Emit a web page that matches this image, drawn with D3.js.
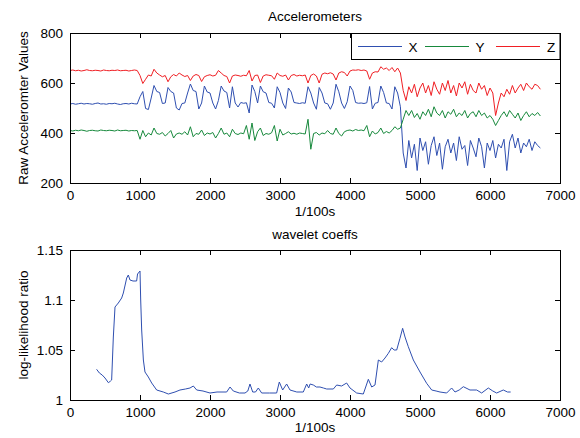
<!DOCTYPE html>
<html>
<head>
<meta charset="utf-8">
<script src="https://cdn.jsdelivr.net/npm/d3@7"></script>
<style>
  body { margin: 0; background: #fff; }
  svg text { font-family: "Liberation Sans", Arial, Helvetica, sans-serif; font-size: 13.5px; fill: #000; }
  .axis path { display: none; }
  .axis line { stroke: #000; }
</style>
</head>
<body>
<div id="chart"></div>
<script>
// accelerometer samples, one every sampleStep (1/100 s)
const sampleStep = 40;

const accX = [
  516, 518, 515, 517, 519, 516, 518, 517, 515, 518, 520, 516, 517, 515, 518, 517, 519, 516, 514, 517, 518, 516, 519, 517, 516,
  545, 566, 498, 494, 540, 590, 566, 562, 518, 520, 582, 566, 560, 500, 492, 518, 520, 560, 596, 570, 566, 496, 520, 588, 564,
  560, 520, 496, 530, 588, 568, 562, 500, 585, 520, 504, 522, 519, 521, 480, 592, 566, 520, 588, 565, 560, 522, 519, 500, 585,
  562, 520, 498, 580, 564, 522, 520, 518, 521, 519, 585, 560, 520, 495, 582, 560, 520, 517, 495, 520, 595, 565, 520, 498, 525,
  588, 570, 522, 519, 520, 518, 521, 586, 496, 519, 522, 588, 562, 520, 518, 496, 585, 560, 505, 320, 260,
  370, 300, 355, 250, 380, 330, 365, 275, 350, 385, 310, 360, 255, 345, 375, 320, 360, 290, 385, 335, 350, 270, 370, 340,
  305, 380, 345, 260, 360, 330, 370, 300, 355, 340, 375, 250, 365, 395, 340, 380, 320, 360, 345, 375, 330, 365, 350, 340
];

const accY = [
  410, 408, 411, 409, 412, 410, 407, 410, 411, 409, 408, 412, 410, 409, 411, 410, 408, 412, 409, 410, 411, 408, 410, 409, 410,
  375, 410, 385, 400, 392, 420, 398, 395, 402, 388, 398, 410, 380, 396, 400, 395, 405, 392, 425, 385, 398, 395, 412, 390, 400,
  396, 402, 380, 398, 420, 395, 400, 385, 415, 398, 394, 400, 397, 430, 375, 440, 370, 405, 420, 390, 398, 395, 401, 430, 368,
  415, 392, 398, 405, 396, 399, 395, 400, 398, 396, 455, 335, 398, 402, 392, 400, 397, 410, 398, 395, 420, 398, 388, 405, 410,
  412, 408, 414, 410, 412, 409, 430, 385, 408, 396, 402, 420, 398, 406, 400, 410, 425, 415, 420, 455, 490,
  470, 490, 462, 478, 455, 485, 470, 495, 465, 505, 480, 470, 490, 460, 485, 475, 495, 465, 480, 470, 490, 460, 478, 485,
  465, 490, 470, 480, 460, 470, 455, 430, 450, 470, 485, 465, 490, 475, 460, 480, 450, 470, 485, 465, 478, 470, 482, 468
];

const accZ = [
  650, 652, 649, 651, 648, 650, 653, 650, 649, 651, 650, 648, 652, 650, 649, 651, 650, 652, 649, 650, 651, 648, 650, 652, 650,
  630, 598, 615, 632, 628, 655, 640, 632, 625, 630, 605, 625, 634, 628, 640, 632, 626, 630, 610, 628, 634, 630, 606, 625, 630,
  633, 628, 631, 650, 640, 630, 626, 600, 628, 632, 630, 627, 631, 629, 650, 608, 630, 632, 602, 628, 633, 631, 629, 615, 640,
  630, 627, 632, 612, 630, 634, 628, 631, 629, 632, 600, 630, 636, 628, 600, 635, 640, 637, 641, 636, 612, 640, 645, 642, 628,
  648, 652, 651, 653, 650, 652, 648, 615, 640, 645, 644, 665, 655, 660, 650, 662, 645, 660, 640, 570, 530,
  585, 560, 595, 545, 580, 600, 560, 590, 550, 605, 575, 555, 600, 570, 610, 560, 590, 548, 600, 580, 605, 555, 595, 570,
  560, 600, 575, 590, 550, 580, 560, 470, 520, 560, 545, 575, 555, 590, 560, 580, 595, 570, 600, 585, 575, 595, 590, 575
];

const seriesNames = ['X', 'Y', 'Z'];
const seriesColors = ['#2f4fb0', '#17893c', '#f01f24'];

// wavelet log-likelihood ratio
const waveletT = [
  380, 420, 460, 500, 548, 580, 595, 619, 643, 690, 738, 762, 810, 833, 857, 900, 952, 965, 1000,
  1010, 1024, 1048, 1071, 1119, 1167, 1238, 1333, 1405, 1500, 1571, 1650, 1714, 1762, 1810, 1900, 2000,
  2100, 2238, 2286, 2333, 2420, 2500, 2540, 2571, 2610, 2650, 2690, 2738, 2850, 2952, 2990, 3038, 3095,
  3143, 3240, 3286, 3333, 3381, 3410, 3430, 3476, 3520, 3571, 3620, 3667, 3762, 3810, 3880, 3952, 4000,
  4095, 4190, 4262, 4310, 4357, 4405, 4452, 4500, 4548, 4595, 4630, 4667, 4714, 4752, 4786, 4833, 4905,
  5000, 5095, 5167, 5230, 5286, 5381, 5452, 5500, 5560, 5619, 5714, 5810, 5881, 5976, 6040, 6095, 6190, 6250, 6295
];
const waveletV = [
  1.0307, 1.027, 1.025, 1.022, 1.0173, 1.019, 1.020, 1.063, 1.093, 1.097, 1.102, 1.107, 1.122, 1.125, 1.120, 1.119, 1.119, 1.126, 1.129,
  1.100, 1.070, 1.040, 1.028, 1.023, 1.017, 1.010, 1.008, 1.006, 1.008, 1.010, 1.011, 1.012, 1.014, 1.010, 1.009, 1.007,
  1.008, 1.008, 1.013, 1.009, 1.007, 1.007, 1.009, 1.016, 1.008, 1.008, 1.012, 1.007, 1.007, 1.007, 1.018, 1.010, 1.016,
  1.010, 1.008, 1.008, 1.008, 1.016, 1.012, 1.016, 1.015, 1.013, 1.013, 1.012, 1.011, 1.011, 1.015, 1.014, 1.017, 1.012,
  1.007, 1.006, 1.0207, 1.013, 1.015, 1.040, 1.038, 1.042, 1.0467, 1.0523, 1.050, 1.050, 1.0617, 1.0717, 1.063, 1.0533, 1.040,
  1.028, 1.0167, 1.010, 1.009, 1.008, 1.007, 1.012, 1.008, 1.010, 1.0133, 1.010, 1.010, 1.007, 1.012, 1.009, 1.007, 1.010, 1.008, 1.008
];

const xTicks = [0, 1000, 2000, 3000, 4000, 5000, 6000, 7000];
const accTicks = [200, 400, 600, 800];
const waveTicks = [1, 1.05, 1.1, 1.15];

const width = 580, height = 438;
const svg = d3.select('#chart').append('svg')
    .attr('width', width)
    .attr('height', height);

svg.append('rect').attr('width', width).attr('height', height).attr('fill', '#fff');

const left = 70, right = 560;

function drawFrame(g, x, y, yTicks, yFmt, top, bottom) {
  g.append('g').attr('class', 'axis')
      .attr('transform', `translate(0,${bottom})`)
      .call(d3.axisBottom(x).tickValues(xTicks).tickSize(-5).tickPadding(7).tickFormat(d3.format('d')));
  g.append('g').attr('class', 'axis')
      .attr('transform', `translate(0,${top})`)
      .call(d3.axisTop(x).tickValues(xTicks).tickSize(-5).tickFormat(''));
  g.append('g').attr('class', 'axis')
      .attr('transform', `translate(${left},0)`)
      .call(d3.axisLeft(y).tickValues(yTicks).tickSize(-5).tickPadding(7).tickFormat(yFmt));
  g.append('g').attr('class', 'axis')
      .attr('transform', `translate(${right},0)`)
      .call(d3.axisRight(y).tickValues(yTicks).tickSize(-5).tickFormat(''));
  g.selectAll('.axis text').style('font-size', '13.5px');
  g.append('rect')
      .attr('x', left + 0.5).attr('y', top + 0.5)
      .attr('width', right - left).attr('height', bottom - top)
      .attr('fill', 'none').attr('stroke', '#000');
}

// ---- top: accelerometers
const top1 = 33, bottom1 = 183;
const x1 = d3.scaleLinear().domain([0, 7000]).range([left, right]);
const y1 = d3.scaleLinear().domain([200, 800]).range([bottom1, top1]);

const g1 = svg.append('g');
const line1 = d3.line()
    .x((d, i) => x1(i * sampleStep))
    .y((d) => y1(d));

[accX, accY, accZ].forEach((s, k) => {
  g1.append('path')
      .datum(s)
      .attr('d', line1)
      .attr('fill', 'none')
      .attr('stroke', seriesColors[k])
      .attr('stroke-width', 1);
});

drawFrame(g1, x1, y1, accTicks, d3.format('d'), top1, bottom1);

g1.append('text').attr('x', (left + right) / 2).attr('y', 21)
    .attr('text-anchor', 'middle').text('Accelerometers');
g1.append('text').attr('x', (left + right) / 2).attr('y', 216)
    .attr('text-anchor', 'middle').text('1/100s');
g1.append('text')
    .attr('transform', `translate(28,${(top1 + bottom1) / 2}) rotate(-90)`)
    .attr('text-anchor', 'middle').text('Raw Acceleromter Values');

// legend
const legend = g1.append('g');
legend.append('rect')
    .attr('x', 351.5).attr('y', top1 + 0.5)
    .attr('width', right - 351.5).attr('height', 26)
    .attr('fill', '#fff').attr('stroke', '#000');
const legendX = [358, 425, 496];
seriesNames.forEach((name, k) => {
  legend.append('line')
      .attr('x1', legendX[k]).attr('x2', legendX[k] + 44)
      .attr('y1', 46.5).attr('y2', 46.5)
      .attr('stroke', seriesColors[k]);
  legend.append('text')
      .attr('x', legendX[k] + 55).attr('y', 51.5)
      .attr('text-anchor', 'middle').text(name);
});

// ---- bottom: wavelet coeffs
const top2 = 250, bottom2 = 400;
const x2 = d3.scaleLinear().domain([0, 7000]).range([left, right]);
const y2 = d3.scaleLinear().domain([1, 1.15]).range([bottom2, top2]);

const g2 = svg.append('g');
g2.append('path')
    .datum(waveletT.map((t, i) => [t, waveletV[i]]))
    .attr('d', d3.line().x((d) => x2(d[0])).y((d) => y2(d[1])))
    .attr('fill', 'none')
    .attr('stroke', seriesColors[0])
    .attr('stroke-width', 1);

drawFrame(g2, x2, y2, waveTicks, (d) => String(+d.toFixed(2)), top2, bottom2);

g2.append('text').attr('x', (left + right) / 2).attr('y', 238.5)
    .attr('text-anchor', 'middle').text('wavelet coeffs');
g2.append('text').attr('x', (left + right) / 2).attr('y', 432)
    .attr('text-anchor', 'middle').text('1/100s');
g2.append('text')
    .attr('transform', `translate(28,${(top2 + bottom2) / 2}) rotate(-90)`)
    .attr('text-anchor', 'middle').text('log-likelihood ratio');
</script>
</body>
</html>
